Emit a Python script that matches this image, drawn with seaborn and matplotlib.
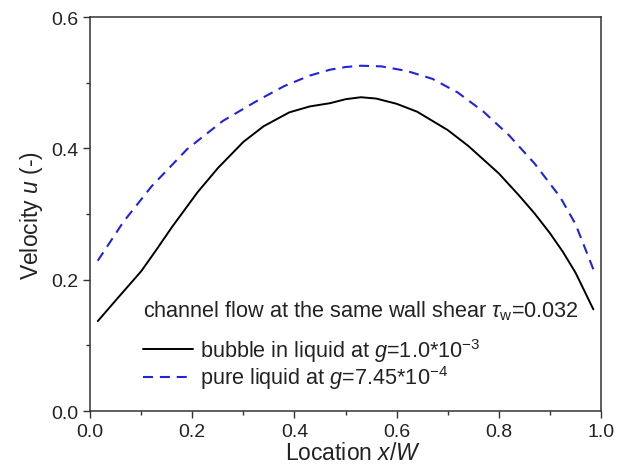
import matplotlib
matplotlib.use('Agg')
import matplotlib.pyplot as plt
import seaborn as sns
import pandas as pd

x_bubble = [0.015, 0.055, 0.1, 0.13, 0.16, 0.21, 0.25, 0.3, 0.34, 0.39, 0.43, 0.47, 0.5, 0.53,
            0.56, 0.6, 0.64, 0.7, 0.74, 0.8, 0.84, 0.87, 0.9, 0.925, 0.95, 0.985]
u_bubble = [0.137, 0.173, 0.213, 0.246, 0.28, 0.333, 0.37, 0.41, 0.434, 0.455, 0.464, 0.469,
            0.475, 0.478, 0.476, 0.468, 0.456, 0.428, 0.404, 0.362, 0.328, 0.301, 0.271,
            0.243, 0.211, 0.155]

x_pure = [0.015, 0.065, 0.12, 0.19, 0.26, 0.33, 0.38, 0.43, 0.47, 0.5, 0.53, 0.57,
          0.62, 0.67, 0.72, 0.77, 0.82, 0.87, 0.92, 0.95, 0.985]
u_pure = [0.229, 0.288, 0.342, 0.399, 0.442, 0.474, 0.495, 0.511, 0.52, 0.524, 0.526, 0.525,
          0.518, 0.506, 0.485, 0.456, 0.42, 0.377, 0.326, 0.285, 0.216]

label_bubble = 'bubble in liquid at $g$=1.0*10$^{-3}$'
label_pure = 'pure liquid at $g$=7.45*10$^{-4}$'
legend_title = r'channel flow at the same wall shear $\tau_{\rm w}$=0.032'

sns.set_style('ticks')
plt.rcParams['font.family'] = ['Liberation Sans', 'DejaVu Sans']
plt.rcParams['mathtext.fontset'] = 'custom'
plt.rcParams['mathtext.rm'] = 'Liberation Sans'
plt.rcParams['mathtext.it'] = 'Liberation Sans:italic'

fig = plt.figure(figsize=(6.3, 4.77), dpi=100)
ax = fig.add_axes([0.143, 0.136, 0.811, 0.826])

df_b = pd.DataFrame({'x': x_bubble, 'u': u_bubble})
df_p = pd.DataFrame({'x': x_pure, 'u': u_pure})
sns.lineplot(data=df_b, x='x', y='u', ax=ax, color='black', lw=1.4, label=label_bubble)
sns.lineplot(data=df_p, x='x', y='u', ax=ax, color='#2222dd', lw=1.5, label=label_pure)
ax.lines[1].set_dashes((4.8, 3.3))

ax.set_xlim(0, 1)
ax.set_ylim(0, 0.6)
ax.set_xticks([0, 0.2, 0.4, 0.6, 0.8, 1.0])
ax.set_yticks([0, 0.2, 0.4, 0.6])
ax.set_xticks([0.1, 0.3, 0.5, 0.7, 0.9], minor=True)
ax.set_yticks([0.1, 0.3, 0.5], minor=True)
ax.xaxis.set_major_formatter(matplotlib.ticker.FormatStrFormatter('%.1f'))
ax.yaxis.set_major_formatter(matplotlib.ticker.FormatStrFormatter('%.1f'))
ax.tick_params(which='major', length=5, width=1, labelsize=14, color='#333333', labelcolor='#222222')
ax.tick_params(which='minor', length=3, width=1, color='#333333')
for s in ax.spines.values():
    s.set_linewidth(1.1)
    s.set_color('#333333')

ax.set_xlabel('Location $x$/$W$', fontsize=16.5, color='#222222', labelpad=1)
ax.xaxis.label.set_x(0.515)
ax.set_ylabel('Velocity $u$ (-)', fontsize=16.5, color='#222222', labelpad=4)

ax.text(0.104, 0.256, legend_title, transform=ax.transAxes, fontsize=15.6,
        color='#222222', va='center', ha='left')
leg = ax.legend(loc='lower left', bbox_to_anchor=(0.086, 0.028),
                frameon=False, fontsize=15.6, handlelength=2.3,
                handletextpad=0.35, labelspacing=0.0, borderaxespad=0)
for t in leg.get_texts():
    t.set_color('#222222')

fig.savefig('out.png', dpi=100)
